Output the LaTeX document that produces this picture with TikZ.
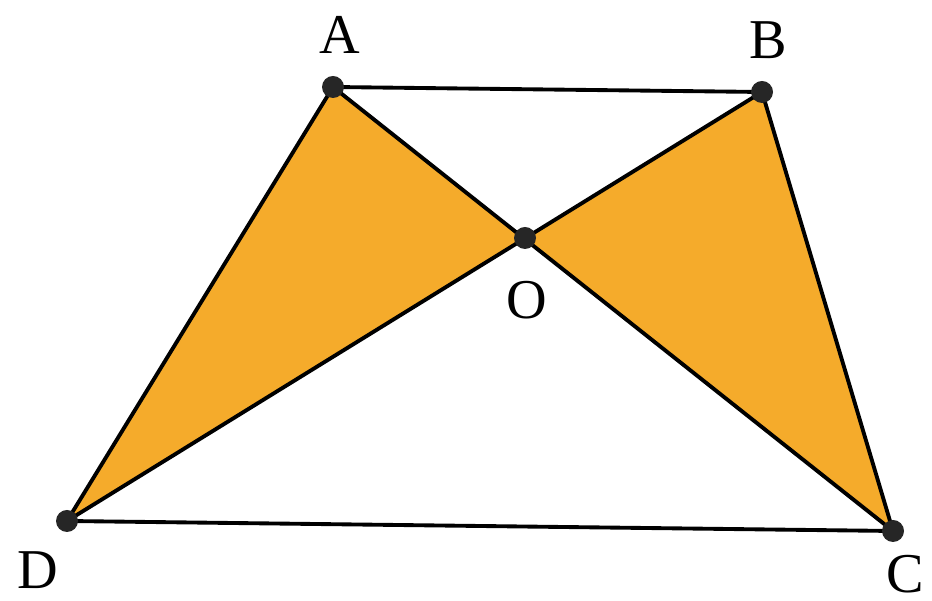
\documentclass[tikz,border=0pt]{standalone}
\usepackage{fontspec}
\setmainfont{Liberation Serif}
\definecolor{orangefill}{rgb}{0.96,0.67,0.17}
\definecolor{darkdot}{rgb}{0.15,0.15,0.15}

\begin{document}
\begin{tikzpicture}[line width=1.1pt,
  punkt/.style={circle, fill=darkdot, inner sep=0pt, minimum size=0.22cm},
  marke/.style={font=\fontsize{16}{19}\selectfont, inner sep=0pt}]

\useasboundingbox (0,0) rectangle (9.32,6.01);

% Eckpunkte des Trapezes und Schnittpunkt der Diagonalen
\coordinate (A) at (3.33,5.14);
\coordinate (B) at (7.62,5.09);
\coordinate (C) at (8.93,0.70);
\coordinate (D) at (0.67,0.80);
\coordinate (O) at (5.25,3.63);

% die beiden gefaerbten Dreiecke
\fill[orangefill] (A) -- (O) -- (D) -- cycle;
\fill[orangefill] (B) -- (O) -- (C) -- cycle;

% Seiten und Diagonalen
\draw (A) -- (B) -- (C) -- (D) -- cycle;
\draw (A) -- (C);
\draw (B) -- (D);

% Punkte
\foreach \p in {A,B,C,D,O}
  \node[punkt] (\p dot) at (\p) {};

% Beschriftungen
\node[marke] (Alab) at (3.40,5.66) {A};
\node[marke] (Blab) at (7.68,5.61) {B};
\node[marke] (Clab) at (9.05,0.27) {C};
\node[marke] (Dlab) at (0.38,0.31) {D};
\node[marke] (Olab) at (5.27,3.01) {O};

\end{tikzpicture}
\end{document}
